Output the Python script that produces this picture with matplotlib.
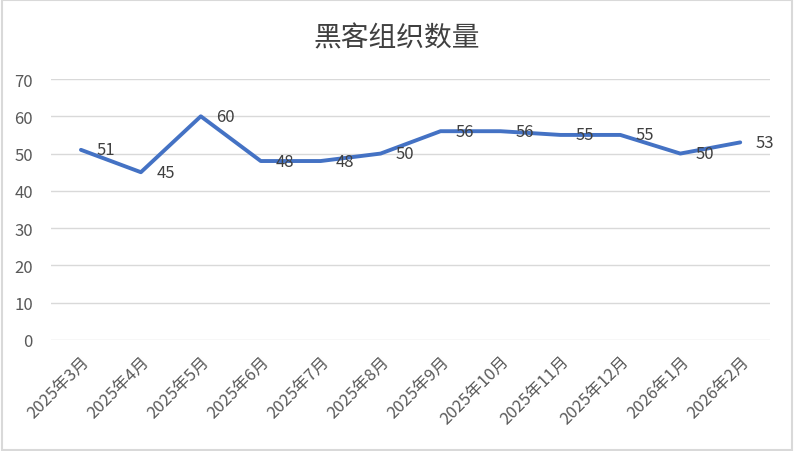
import matplotlib.pyplot as plt
from matplotlib.patches import Rectangle

plt.rcParams['font.family'] = ['Noto Sans CJK SC', 'DejaVu Sans']

# 数据
months = ['2025年3月', '2025年4月', '2025年5月', '2025年6月', '2025年7月', '2025年8月',
          '2025年9月', '2025年10月', '2025年11月', '2025年12月', '2026年1月', '2026年2月']
counts = [51, 45, 60, 48, 48, 50, 56, 56, 55, 55, 50, 53]

fig = plt.figure(figsize=(7.94, 4.52), dpi=100)
ax = fig.add_axes([0.0642, 0.2456, 0.9058, 0.5774])

x = range(len(months))
ax.plot(x, counts, color='#4472C4', linewidth=2.8, solid_capstyle='round', zorder=3)

# 数据标签
for i, v in enumerate(counts):
    ax.annotate(str(v), (i, v), textcoords='offset points', xytext=(11, 0),
                ha='left', va='center', fontsize=12, color='#404040', zorder=4)

ax.set_xlim(-0.5, len(months) - 0.5)
ax.set_ylim(0, 70)
ax.set_yticks(range(0, 71, 10))
ax.set_xticks(list(x))
ax.set_xticklabels(months, rotation=45, ha='right', rotation_mode='anchor')
ax.tick_params(axis='both', length=0, labelsize=12, labelcolor='#595959')
ax.tick_params(axis='y', pad=13)
ax.tick_params(axis='x', pad=9)
ax.grid(axis='y', color='#D9D9D9', linewidth=1)
ax.set_axisbelow(True)
for s in ax.spines.values():
    s.set_visible(False)

fig.text(0.5, 0.916, '黑客组织数量', ha='center', va='center', fontsize=20, color='#404040')

# 外框
fig.patches.append(Rectangle((0.002, 0.003), 0.996, 0.994, transform=fig.transFigure,
                             fill=False, edgecolor='#D9D9D9', linewidth=1.5))

fig.savefig('out.png', dpi=100)
